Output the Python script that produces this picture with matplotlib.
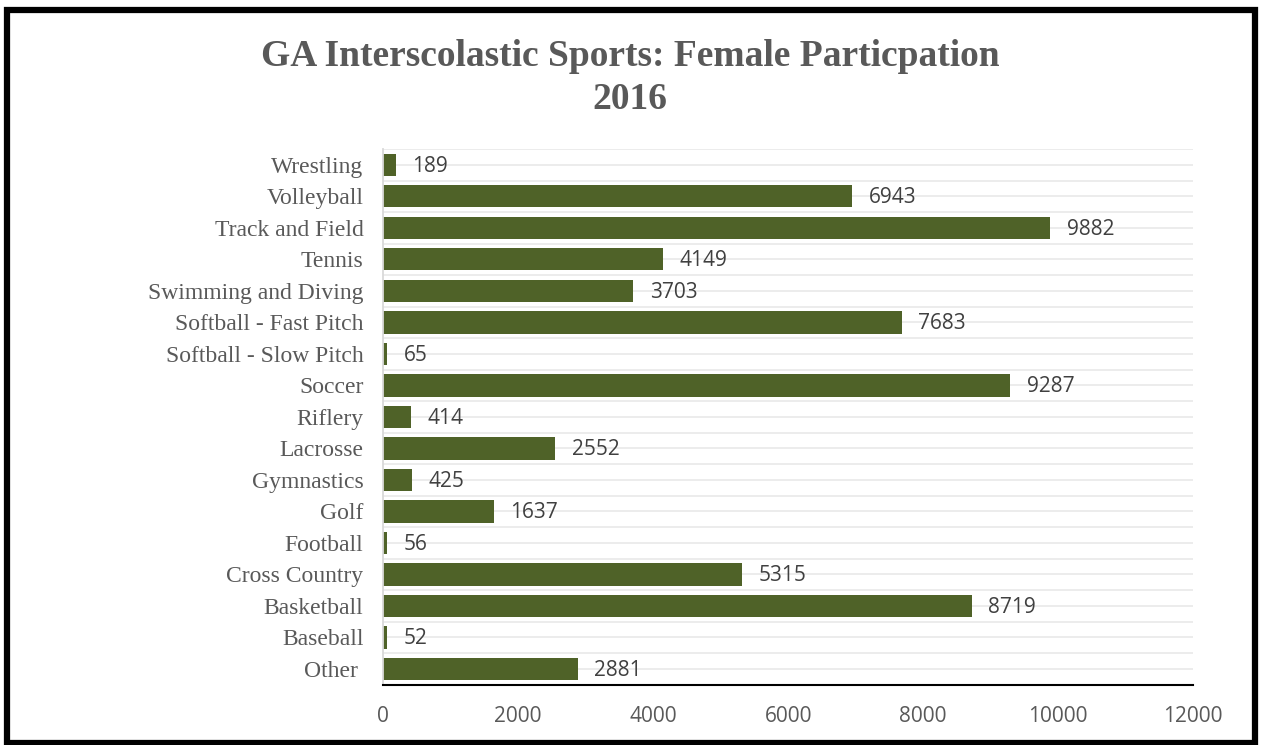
import numpy as np
import matplotlib
matplotlib.use('Agg')
import matplotlib.pyplot as plt
from matplotlib.patches import Rectangle

# Data, top to bottom as shown
sports = ['Wrestling', 'Volleyball', 'Track and Field', 'Tennis', 'Swimming and Diving',
          'Softball - Fast Pitch', 'Softball - Slow Pitch', 'Soccer', 'Riflery', 'Lacrosse',
          'Gymnastics', 'Golf', 'Football', 'Cross Country', 'Basketball', 'Baseball', 'Other ']
participants = [189, 6943, 9882, 4149, 3703, 7683, 65, 9287, 414, 2552,
                425, 1637, 56, 5315, 8719, 52, 2881]
x_ticks = [0, 2000, 4000, 6000, 8000, 10000, 12000]

bar_color = '#4F6228'
serif = ['Liberation Serif', 'DejaVu Serif']
sans = ['Open Sans', 'DejaVu Sans']

fig = plt.figure(figsize=(12.65, 7.45), dpi=100)
ax = fig.add_axes([0.3028, 0.0809, 0.6405, 0.7188])

n = len(sports)
ypos = np.arange(n)[::-1]
ax.barh(ypos, participants, height=0.7, color=bar_color, zorder=3)

# value labels
for y, v in zip(ypos, participants):
    ax.annotate(str(v), (v, y), xytext=(12, -1), textcoords='offset points',
                va='center', ha='left', fontsize=15, color='#404040', family=sans)

ax.set_xlim(0, 12000)
ax.set_ylim(-0.5, n - 0.5)
ax.set_xticks(x_ticks)
ax.set_xticklabels([str(t) for t in x_ticks], fontsize=15, color='#595959', family=sans)
ax.set_yticks(ypos)
ax.set_yticklabels(sports, fontsize=17, color='#595959', family=serif)
ax.tick_params(axis='both', length=0)
ax.tick_params(axis='x', pad=15)
ax.tick_params(axis='y', pad=14)

# gridlines at category centres and boundaries
for g in np.arange(-0.5, n, 0.5):
    ax.axhline(g, color='#EBEBEB', linewidth=1.3, zorder=1)

for s in ['top', 'right']:
    ax.spines[s].set_visible(False)
ax.spines['left'].set_color('#D9D9D9')
ax.spines['left'].set_linewidth(1.3)
ax.spines['left'].set_zorder(4)
ax.spines['bottom'].set_color('black')
ax.spines['bottom'].set_linewidth(1.5)
ax.spines['bottom'].set_zorder(4)

fig.text(0.498, 0.895, 'GA Interscolastic Sports: Female Particpation\n2016',
         ha='center', va='center', fontsize=27, fontweight='bold', color='#595959',
         family=serif, linespacing=1.3)

# outer border
fig.patches.append(Rectangle((0.0055, 0.0027), 0.9865, 0.984, transform=fig.transFigure,
                             fill=False, edgecolor='black', linewidth=4.5))

fig.savefig('out.png', dpi=100)
